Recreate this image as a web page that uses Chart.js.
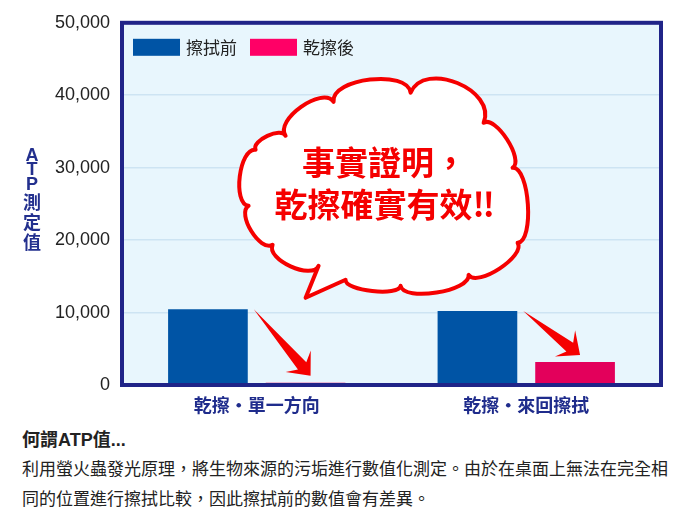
<!DOCTYPE html>
<html>
<head>
<meta charset="utf-8">
<script src="https://cdn.jsdelivr.net/npm/chart.js@4.4.1/dist/chart.umd.min.js"></script>
<style>
	body {
		margin: 0;
		width: 680px;
		height: 530px;
		position: relative;
		overflow: hidden;
		background: #fff;
		color: #222;
		font-family: 'Liberation Sans', 'Noto Sans CJK TC', sans-serif;
	}
	#wrap { position: absolute; left: 0; top: 0; width: 680px; height: 425px; }
	.note-title { position: absolute; left: 22px; top: 430px; font-size: 18px; font-weight: bold; line-height: 20px; }
	.note { position: absolute; left: 22px; top: 455px; font-size: 17px; line-height: 30px; white-space: nowrap; }
</style>
</head>
<body>
<div id="wrap"><canvas id="atp" width="680" height="425"></canvas></div>
<div class="note-title">何謂ATP值...</div>
<div class="note">利用螢火蟲發光原理，將生物來源的污垢進行數值化測定。由於在桌面上無法在完全相<br>同的位置進行擦拭比較，因此擦拭前的數值會有差異。</div>
<script>
const categories = ['乾擦・單一方向', '乾擦・來回擦拭']
const seriesNames = ['擦拭前', '乾擦後']
const beforeValues = [10450, 10200]
const afterValues = [320, 3170]
const yTicks = [0, 10000, 20000, 30000, 40000, 50000]
const axisTitle = ['A', 'T', 'P', '測', '定', '值']
const calloutLines = ['事實證明，', '乾擦確實有效‼']

const barColors = ['#0054a5', '#e3005b']
const legendColors = ['#0054a5', '#ff0066']
const navy = '#202488'
const red = '#f50000'
const cjk = "'Noto Sans CJK TC', sans-serif"

//cloud outline, offsets from the cloud centre, with how far each lobe bulges
const cloudPts = [
	[-97, -48, 0.25], [-49, -82, 0.23], [28, -91, 0.34], [101, -61, 0.2],
	[130, -16, 0.17], [135, 59, 0.2], [86, 91, 0.18], [18, 102, 0.15],
	[-37, 96, 0], [-77, 114, 0], [-64, 82, 0.24], [-110, 61, 0.24],
	[-134, 22, 0.22], [-127, -34, 0.23],
]

//background and frame of the plot
const plotFrame = {
	id: 'plotFrame',
	beforeDraw: chart => {
		const { ctx, chartArea: a } = chart
		ctx.save()
		ctx.fillStyle = '#e8f6fd'
		ctx.fillRect(a.left, a.top, a.right - a.left, a.bottom - a.top)
		ctx.restore()
	},
	afterDraw: chart => {
		const { ctx, chartArea: a } = chart
		ctx.save()
		ctx.strokeStyle = navy
		ctx.lineWidth = 4
		ctx.strokeRect(a.left, a.top, a.right - a.left, a.bottom - a.top)

		//stacked y title
		ctx.fillStyle = '#23308e'
		ctx.textAlign = 'center'
		ctx.textBaseline = 'middle'
		let y = (a.top + a.bottom) / 2 - 48
		let prevLatin = true
		axisTitle.forEach((c, i) => {
			const latin = /[A-Z]/.test(c)
			if (i > 0) y += latin ? 14.5 : prevLatin ? 17 : 20
			ctx.font = latin ? "bold 18px 'Liberation Sans', sans-serif" : `bold 18px ${cjk}`
			ctx.fillText(c, 32, y)
			prevLatin = latin
		})
		ctx.restore()
	},
}

const drawArrow = (ctx, x0, y0, x1, y1) => {
	const len = Math.hypot(x1 - x0, y1 - y0)
	const dx = (x1 - x0) / len
	const dy = (y1 - y0) / len
	const nx = -dy
	const ny = dx
	const p = (back, side) => [x1 - dx * back + nx * side, y1 - dy * back + ny * side]
	const pts = [[x0, y0], p(13, 5.5), p(19, 16.5), [x1, y1], p(19, -16.5), p(13, -5.5)]
	ctx.beginPath()
	pts.forEach((q, i) => (i ? ctx.lineTo(q[0], q[1]) : ctx.moveTo(q[0], q[1])))
	ctx.closePath()
	ctx.fill()
}

//legend, arrows and the speech cloud
const callouts = {
	id: 'callouts',
	afterDatasetsDraw: chart => {
		const { ctx, chartArea: a } = chart
		ctx.save()

		//legend inside the plot
		ctx.font = `17px ${cjk}`
		ctx.textBaseline = 'middle'
		let x = a.left + 11
		seriesNames.forEach((name, i) => {
			ctx.fillStyle = legendColors[i]
			ctx.fillRect(x, a.top + 16, 47, 17)
			ctx.fillStyle = '#222'
			ctx.fillText(name, x + 53, a.top + 25)
			x += 53 + ctx.measureText(name).width + 13
		})

		//arrows from each before bar to its after bar
		const before = chart.getDatasetMeta(0).data
		const after = chart.getDatasetMeta(1).data
		ctx.fillStyle = red
		before.forEach((b, i) => {
			const p = after[i]
			drawArrow(ctx, b.x + b.width / 2 + 6, b.y, p.x + 5, p.y - 7)
		})

		//cloud
		const cx = a.left + (a.right - a.left) * 0.4835
		const cy = a.top + 161
		const pts = cloudPts.map(q => [cx + q[0], cy + q[1], q[2]])
		ctx.beginPath()
		ctx.moveTo(pts[0][0], pts[0][1])
		pts.forEach((q, i) => {
			const n = pts[(i + 1) % pts.length]
			if (!q[2]) {
				ctx.lineTo(n[0], n[1])
				return
			}
			const ox = ((n[1] - q[1]) * q[2]) / 0.75
			const oy = (-(n[0] - q[0]) * q[2]) / 0.75
			ctx.bezierCurveTo(q[0] + ox, q[1] + oy, n[0] + ox, n[1] + oy, n[0], n[1])
		})
		ctx.closePath()
		ctx.fillStyle = '#fff'
		ctx.fill()
		ctx.lineJoin = 'round'
		ctx.lineWidth = 4
		ctx.strokeStyle = red
		ctx.stroke()

		ctx.fillStyle = red
		ctx.font = `bold 33px ${cjk}`
		ctx.textAlign = 'center'
		ctx.fillText(calloutLines[0], cx + 2, cy - 21)
		ctx.fillText(calloutLines[1], cx + 2, cy + 21)
		ctx.restore()
	},
}

new Chart(document.querySelector('#atp'), {
	type: 'bar',
	data: {
		labels: categories,
		datasets: [
			{ label: seriesNames[0], data: beforeValues, backgroundColor: barColors[0] },
			{ label: seriesNames[1], data: afterValues, backgroundColor: barColors[1] },
		],
	},
	options: {
		responsive: false,
		animation: false,
		categoryPercentage: 0.7246,
		barPercentage: 0.816,
		layout: { padding: { top: 20, right: 19, left: 0, bottom: 0 } },
		plugins: {
			legend: { display: false },
			tooltip: { enabled: false },
		},
		scales: {
			x: {
				grid: { display: false, drawTicks: false },
				border: { display: false },
				ticks: {
					padding: 9,
					color: '#1f2c8c',
					font: { family: cjk, size: 18, weight: 'bold' },
				},
				afterFit: s => {
					s.height = 40
				},
			},
			y: {
				min: yTicks[0],
				max: yTicks[yTicks.length - 1],
				grid: { color: '#cde4f3', lineWidth: 1.5, drawTicks: false },
				border: { display: false },
				ticks: {
					stepSize: yTicks[1] - yTicks[0],
					padding: 12,
					color: '#222',
					font: { family: "'Liberation Sans', Arial, sans-serif", size: 18 },
					callback: v => v.toLocaleString('en-US'),
				},
				afterFit: s => {
					s.width = 122
				},
			},
		},
	},
	plugins: [plotFrame, callouts],
})
</script>
</body>
</html>
